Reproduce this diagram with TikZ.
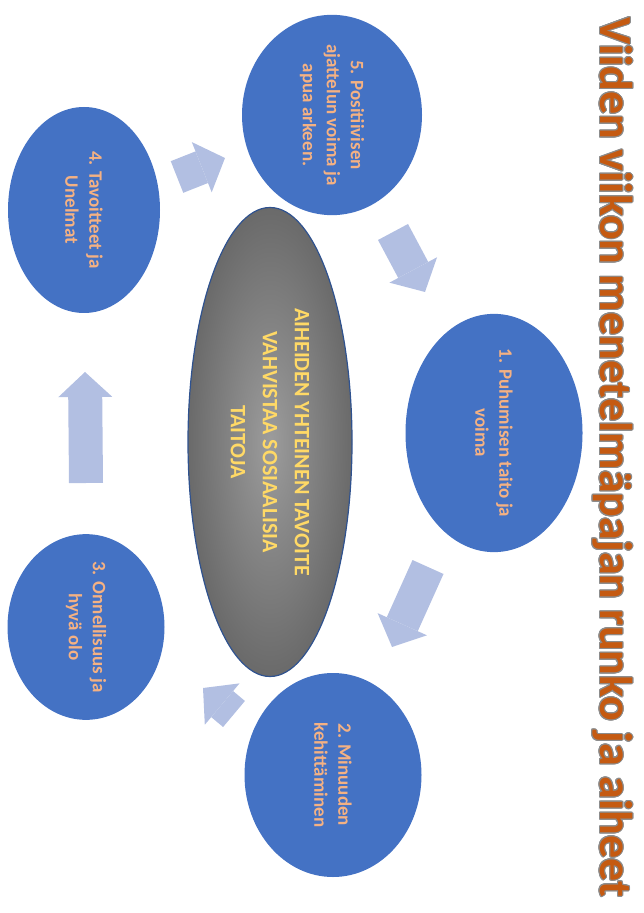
\documentclass[tikz,border=0pt]{standalone}
\usepackage{fontspec}
\setmainfont{Carlito}
\usepackage{contour}
\contourlength{0.5pt}
\usetikzlibrary{arrows.meta,shapes.geometric,positioning}
\definecolor{topicblue}{HTML}{4472C4}
\definecolor{topictext}{HTML}{F4B183}
\definecolor{goaltext}{HTML}{FFD966}
\definecolor{goalrim}{HTML}{2F528F}
\definecolor{goalinner}{HTML}{9C9C9C}
\definecolor{goalouter}{HTML}{6A6A6A}
\definecolor{arrowblue}{HTML}{B2BFE2}
\definecolor{titlebrown}{HTML}{C55A11}

\begin{document}
\begin{tikzpicture}[x=0.5pt,y=-0.5pt,
	topic/.style={shape=ellipse, fill=topicblue, text=topictext, rotate=-90, align=center, inner sep=0pt,
		font=\bfseries\fontsize{9.5}{12}\selectfont},
	goalshape/.style={shape=ellipse, draw=goalrim, line width=0.6pt, inner color=goalinner, outer color=goalouter,
		text=goaltext, rotate=-90, align=center, inner sep=0pt, font=\bfseries\fontsize{11}{16}\selectfont},
	blockarrow/.style={arrowblue, line width=17pt, -{Triangle[width=27pt,length=12.5pt,line width=0pt]}}]
	\useasboundingbox (0,0) rectangle (643,913);
	\path (332,115) node (t5) [topic, minimum width=100pt, minimum height=90pt] {5. Positiivisen\\ajattelun voima ja\\apua arkeen.}
		  (494,433) node (t1) [topic, minimum width=116.5pt, minimum height=88.5pt] {1. Puhumisen taito ja\\voima}
		  (333,775) node (t2) [topic, minimum width=102pt, minimum height=88.5pt] {2. Minuuden\\kehittäminen}
		  (86,627) node (t3) [topic, minimum width=90.5pt, minimum height=78.5pt] {3. Onnellisuus ja\\hyvä olo}
		  (84,210) node (t4) [topic, minimum width=103pt, minimum height=76pt] {4. Tavoitteet ja\\Unelmat}
		  (270,442) node (goal) [goalshape, minimum width=234.5pt, minimum height=82pt] {AIHEIDEN YHTEINEN TAVOITE\\VAHVISTAA SOSIAALISIA\\TAITOJA};
	\node (title) [rotate=-90, text=titlebrown, font=\bfseries\fontsize{23}{28}\selectfont] at (612,457)
		{\contour{black!45}{Viiden viikon menetelmäpajan runko ja aiheet}};
	% block arrows between the topics
	\coordinate (from4) at (177,177);  \coordinate (to5) at (225,158);
	\coordinate (from5) at (393,232);  \coordinate (to1) at (425,292);
	\coordinate (from1) at (428,567);  \coordinate (to2) at (392,647);
	\coordinate (from2) at (234,714);  \coordinate (to3) at (203,688);
	\coordinate (from3) at (86,483);   \coordinate (to4) at (85,372);
	\draw[blockarrow] (from4) -- (to5);
	\draw[blockarrow] (from5) -- (to1);
	\draw[blockarrow] (from1) -- (to2);
	\draw[blockarrow] (from2) -- (to3);
	\draw[blockarrow] (from3) -- (to4);
\end{tikzpicture}
\end{document}
